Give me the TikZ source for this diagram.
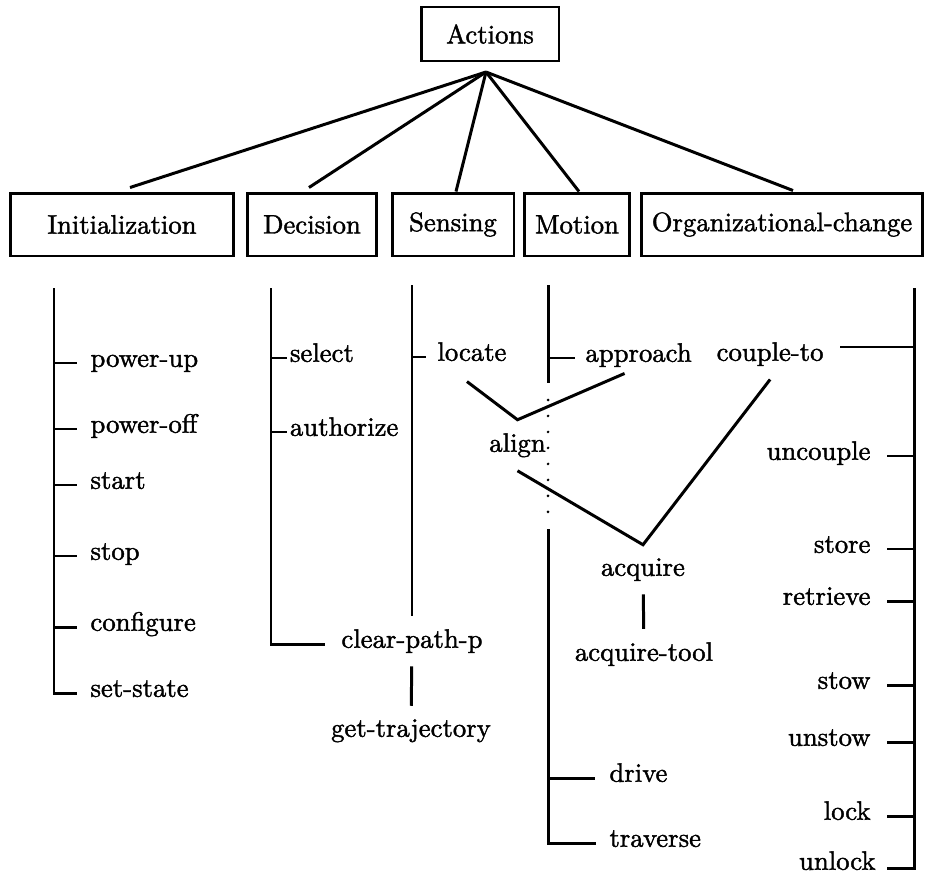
\documentclass[tikz,border=0pt]{standalone}
\usepackage{tikz}
\font\lblf="[lmroman10-regular]:mapping=tex-text;embolden=1.5" at 15.2pt

\tikzset{
	catbox/.style={draw, minimum height=1.26cm, inner sep=0pt, font=\lblf},
	leaf/.style={inner xsep=0.24cm, inner ysep=0.24cm, font=\lblf},
	dotline/.style={dash pattern=on 0pt off 0.32cm, line cap=round, shorten <=0.34cm, shorten >=0.3cm},
}

\begin{document}
\lblf
\begin{tikzpicture}[x=0.02cm, y=-0.02cm, line width=1.7pt]
			\useasboundingbox (0,0) rectangle (926,875);
			
			\node [catbox, minimum width=2.76cm, minimum height=1.08cm] (act) at (490,34) {Actions};
			\node [catbox, minimum width=4.48cm] (init) at (122,224.5) {Initialization};
			\node [catbox, minimum width=2.6cm] (dec) at (312,224.5) {Decision};
			\node [catbox, minimum width=2.44cm] (sens) at (453,224.5) {Sensing};
			\node [catbox, minimum width=2.09cm] (mot) at (577,224.5) {Motion};
			\node [catbox, minimum width=5.64cm] (org) at (782,224.5) {Organizational-change};
			
			\coordinate (apex) at (486,72);
			\draw (apex) -- ([shift={(8,-4)}]init.north);
			\draw (apex) -- ([shift={(-3,-4)}]dec.north);
			\draw (apex) -- ([shift={(3,0)}]sens.north);
			\draw (apex) -- ([shift={(2,0)}]mot.north);
			\draw (apex) -- ([shift={(11,-1)}]org.north);
			
			\coordinate (itop) at (54,288);
			\node [leaf, anchor=mid west] (pwrup) at (77,363) {power-up};
			\node [leaf, anchor=mid west] (pwroff) at (77,429) {power-off};
			\node [leaf, anchor=mid west] (istart) at (77,485) {start};
			\node [leaf, anchor=mid west] (istop) at (77,556) {stop};
			\node [leaf, anchor=mid west] (config) at (77,627) {configure};
			\node [leaf, anchor=mid west] (setst) at (77,693) {set-state};
			\draw (itop) |- (setst.mid west);
			\draw (itop |- pwrup.mid west) -- (pwrup.mid west);
			\draw (itop |- pwroff.mid west) -- (pwroff.mid west);
			\draw (itop |- istart.mid west) -- (istart.mid west);
			\draw (itop |- istop.mid west) -- (istop.mid west);
			\draw (itop |- config.mid west) -- (config.mid west);
			
			\coordinate (dtop) at (271,288);
			\node [leaf, inner xsep=0.03cm, anchor=mid west] (select) at (287,358) {select};
			\node [leaf, inner xsep=0.03cm, anchor=mid west] (auth) at (287,432) {authorize};
			\node [leaf, inner xsep=0.3cm, anchor=mid] (cpp) at (412,644) {clear-path-p};
			\draw (dtop) |- (cpp.mid west);
			\draw (dtop |- select.mid west) -- (select.mid west);
			\draw (dtop |- auth.mid west) -- (auth.mid west);
			
			\coordinate (stop) at (412,285);
			\node [leaf, inner xsep=0.2cm, anchor=mid west] (locate) at (426,357) {locate};
			\node [leaf, anchor=mid] (gettraj) at (411,733) {get-trajectory};
			\draw (stop) -- (cpp.north);
			\draw (stop |- locate.mid west) -- (locate.mid west);
			\draw (cpp) -- (gettraj);
			
			\coordinate (mtop) at (548,285);
			\coordinate (mgap) at (548,383);
			\coordinate (mlow) at (548,529);
			\node [leaf, inner xsep=0.18cm, anchor=mid west] (appr) at (575,358) {approach};
			\node [leaf, inner xsep=0.26cm, anchor=mid west] (drive) at (595,778) {drive};
			\node [leaf, anchor=mid west] (trav) at (596,843) {traverse};
			\draw (mtop) -- (mgap);
			\draw [dotline] (mgap) -- (mlow);
			\draw (mlow) |- (trav.mid west);
			\draw (mtop |- appr.mid west) -- (appr.mid west);
			\draw (mlow |- drive.mid west) -- (drive.mid west);
			
			\node [leaf, anchor=mid] (align) at (517.5,448) {align};
			\node [leaf, anchor=mid] (acq) at (643,572) {acquire};
			\node [leaf, anchor=mid] (acqtool) at (644,657) {acquire-tool};
			
			\coordinate (otop) at (914,288);
			\node [leaf, inner xsep=0.3cm, anchor=mid east] (couple) at (840,357) {couple-to};
			\node [leaf, inner xsep=0.3cm, anchor=mid east] (uncouple) at (887,456) {uncouple};
			\node [leaf, inner xsep=0.3cm, anchor=mid east] (store) at (887,549) {store};
			\node [leaf, inner xsep=0.3cm, anchor=mid east] (retr) at (887,601) {retrieve};
			\node [leaf, inner xsep=0.3cm, anchor=mid east] (stow) at (887,685) {stow};
			\node [leaf, inner xsep=0.3cm, anchor=mid east] (unstow) at (887,742) {unstow};
			\node [leaf, inner xsep=0.3cm, anchor=mid east] (lock) at (887,816) {lock};
			\node [leaf, inner xsep=0.2cm, anchor=mid east] (unlock) at (887,866) {unlock};
			\coordinate (ctick) at ([shift={(0,-10)}]couple.mid east);
			\coordinate (utick) at ([shift={(0,2)}]unlock.mid east);
			\draw (otop) |- (utick);
			\draw (otop |- ctick) -- (ctick);
			\draw (otop |- uncouple.mid east) -- (uncouple.mid east);
			\draw (otop |- store.mid east) -- (store.mid east);
			\draw (otop |- retr.mid east) -- (retr.mid east);
			\draw (otop |- stow.mid east) -- (stow.mid east);
			\draw (otop |- unstow.mid east) -- (unstow.mid east);
			\draw (otop |- lock.mid east) -- (lock.mid east);
			
			\draw ([shift={(-5,7)}]locate.south) -- (align.north) -- ([shift={(-14,-7)}]appr.south);
			\draw (align.south) -- (acq.north) -- (couple.south);
			\draw (acq) -- (acqtool);
		\end{tikzpicture}
\end{document}
